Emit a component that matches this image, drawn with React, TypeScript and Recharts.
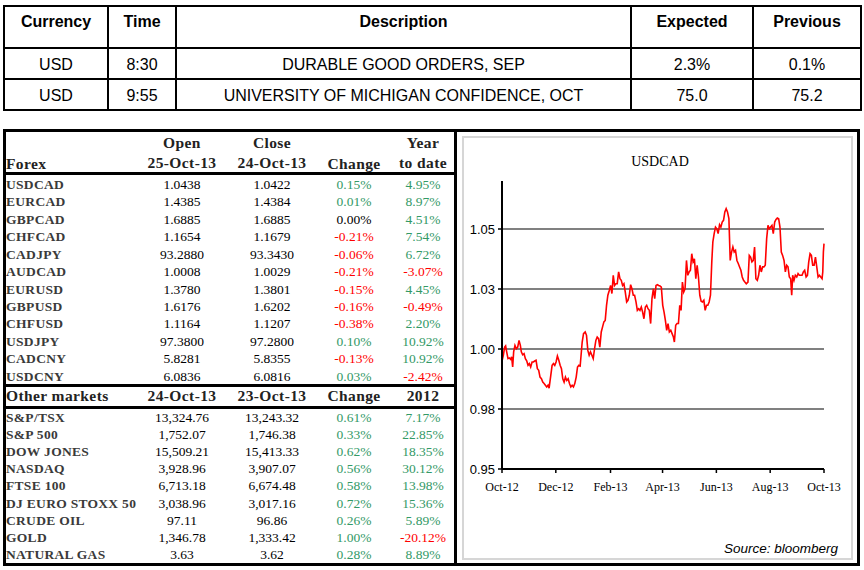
import React from 'react';
import { LineChart, Line, XAxis, YAxis, ReferenceLine } from 'recharts';

// ---------- Economic calendar ----------
const calHeaders = ['Currency', 'Time', 'Description', 'Expected', 'Previous'];
const calCurrency = ['USD', 'USD'];
const calTime = ['8:30', '9:55'];
const calDesc = ['DURABLE GOOD ORDERS, SEP', 'UNIVERSITY OF MICHIGAN CONFIDENCE, OCT'];
const calExpected = ['2.3%', '75.0'];
const calPrevious = ['0.1%', '75.2'];

// ---------- Forex ----------
const forexNames = ['USDCAD', 'EURCAD', 'GBPCAD', 'CHFCAD', 'CADJPY', 'AUDCAD', 'EURUSD', 'GBPUSD', 'CHFUSD', 'USDJPY', 'CADCNY', 'USDCNY'];
const forexOpen = ['1.0438', '1.4385', '1.6885', '1.1654', '93.2880', '1.0008', '1.3780', '1.6176', '1.1164', '97.3800', '5.8281', '6.0836'];
const forexClose = ['1.0422', '1.4384', '1.6885', '1.1679', '93.3430', '1.0029', '1.3801', '1.6202', '1.1207', '97.2800', '5.8355', '6.0816'];
const forexChange = ['0.15%', '0.01%', '0.00%', '-0.21%', '-0.06%', '-0.21%', '-0.15%', '-0.16%', '-0.38%', '0.10%', '-0.13%', '0.03%'];
const forexYtd = ['4.95%', '8.97%', '4.51%', '7.54%', '6.72%', '-3.07%', '4.45%', '-0.49%', '2.20%', '10.92%', '10.92%', '-2.42%'];

// ---------- Other markets ----------
const marketNames = ['S&P/TSX', 'S&P 500', 'DOW JONES', 'NASDAQ', 'FTSE 100', 'DJ EURO STOXX 50', 'CRUDE OIL', 'GOLD', 'NATURAL GAS'];
const marketOpen = ['13,324.76', '1,752.07', '15,509.21', '3,928.96', '6,713.18', '3,038.96', '97.11', '1,346.78', '3.63'];
const marketClose = ['13,243.32', '1,746.38', '15,413.33', '3,907.07', '6,674.48', '3,017.16', '96.86', '1,333.42', '3.62'];
const marketChange = ['0.61%', '0.33%', '0.62%', '0.56%', '0.58%', '0.72%', '0.26%', '1.00%', '0.28%'];
const marketYtd = ['7.17%', '22.85%', '18.35%', '30.12%', '13.98%', '15.36%', '5.89%', '-20.12%', '8.89%'];

// ---------- USDCAD chart (days since 25-Oct-12) ----------
const usdcadDays = [
  0, 1.5, 3.0, 4.1, 5.3, 6.8, 8.3, 9.8, 10.9, 12.1, 13.2, 14.7, 16.3, 17.8, 19.3, 20.8, 21.9, 23.4, 25.0, 26.5,
  28.0, 29.5, 31.0, 32.5, 34.1, 35.6, 37.1, 38.6, 40.1, 41.6, 43.1, 44.7, 46.2, 47.7, 49.2, 50.7, 52.2, 53.4, 55.3, 56.8,
  58.3, 59.8, 61.3, 62.8, 64.4, 65.9, 67.4, 68.9, 70.4, 71.9, 73.4, 75.0, 76.5, 78.0, 79.5, 81.0, 82.5, 84.1, 85.6, 87.1,
  88.6, 90.9, 92.4, 94.3, 95.8, 97.3, 98.8, 100.3, 101.9, 103.4, 104.9, 106.4, 107.9, 109.4, 110.9, 112.5, 114.0, 115.5, 117.0, 118.5,
  120.0, 121.6, 123.1, 124.6, 126.1, 127.6, 129.1, 130.6, 132.2, 133.7, 135.2, 136.7, 138.2, 139.7, 141.3, 142.8, 144.3, 145.8, 147.3, 148.8,
  150.3, 151.9, 153.4, 154.9, 156.4, 157.9, 159.4, 160.9, 162.5, 164.0, 165.5, 167.0, 168.5, 170.0, 171.6, 173.1, 174.6, 176.1, 177.6, 179.1,
  180.6, 182.2, 183.7, 185.2, 186.7, 188.2, 189.7, 191.3, 192.8, 194.3, 195.4, 196.9, 198.4, 200.0, 201.5, 203.0, 204.5, 206.0, 207.5, 209.1,
  210.6, 212.1, 213.6, 215.1, 216.6, 218.1, 219.7, 221.2, 222.7, 224.2, 225.7, 227.2, 228.8, 230.3, 231.8, 233.3, 234.8, 236.3, 237.8, 239.0,
  240.5, 242.0, 243.5, 245.0, 246.6, 248.1, 249.6, 251.1, 252.6, 254.1, 255.6, 257.2, 258.7, 260.2, 261.7, 263.2, 264.7, 266.3, 267.8, 269.3,
  270.8, 272.3, 273.8, 275.3, 276.9, 278.8, 280.3, 281.8, 283.3, 284.8, 286.3, 287.8, 289.4, 290.9, 292.4, 293.9, 295.4, 296.9, 298.4, 300.0,
  301.5, 303.0, 304.5, 306.0, 307.5, 309.1, 310.6, 312.1, 313.6, 315.1, 316.6, 318.1, 319.7, 321.2, 322.7, 324.2, 325.7, 327.2, 328.4, 329.5,
  331.0, 332.5, 334.1, 335.6, 337.1, 338.6, 340.1, 341.6, 343.1, 344.7, 346.2, 347.7, 349.2, 350.7, 352.2, 353.8, 355.3, 356.8, 358.3, 359.8,
  361.3, 362.8, 363.6, 364.3, 365.0,
];
const usdcadValues = [
  0.9950, 0.9974, 1.0008, 1.0013, 0.9988, 0.9960, 0.9963, 0.9957, 0.9967, 0.9925, 0.9988, 1.0015, 1.0001, 1.0008, 1.0036, 1.0015, 0.9988, 0.9976, 0.9981, 0.9960,
  0.9951, 0.9932, 0.9939, 0.9925, 0.9946, 0.9946, 0.9950, 0.9953, 0.9918, 0.9911, 0.9883, 0.9876, 0.9862, 0.9856, 0.9849, 0.9842, 0.9849, 0.9837, 0.9890, 0.9932,
  0.9939, 0.9932, 0.9946, 0.9971, 0.9953, 0.9932, 0.9918, 0.9876, 0.9862, 0.9883, 0.9869, 0.9876, 0.9856, 0.9842, 0.9849, 0.9842, 0.9856, 0.9883, 0.9925, 0.9932,
  0.9929, 1.0029, 1.0064, 1.0071, 1.0057, 0.9994, 0.9974, 0.9988, 0.9974, 0.9960, 1.0001, 1.0036, 1.0050, 1.0043, 1.0008, 1.0071, 1.0092, 1.0113, 1.0119, 1.0182,
  1.0224, 1.0244, 1.0265, 1.0231, 1.0307, 1.0265, 1.0272, 1.0272, 1.0321, 1.0293, 1.0286, 1.0265, 1.0272, 1.0238, 1.0196, 1.0203, 1.0224, 1.0268, 1.0251, 1.0224,
  1.0224, 1.0196, 1.0161, 1.0168, 1.0161, 1.0175, 1.0154, 1.0126, 1.0175, 1.0182, 1.0168, 1.0161, 1.0106, 1.0210, 1.0251, 1.0210, 1.0265, 1.0268, 1.0265, 1.0263,
  1.0258, 1.0182, 1.0154, 1.0119, 1.0078, 1.0106, 1.0071, 1.0078, 1.0064, 1.0050, 1.0029, 1.0099, 1.0106, 1.0106, 1.0182, 1.0161, 1.0279, 1.0238, 1.0251, 1.0369,
  1.0307, 1.0321, 1.0328, 1.0397, 1.0363, 1.0376, 1.0293, 1.0349, 1.0300, 1.0224, 1.0199, 1.0196, 1.0203, 1.0161, 1.0182, 1.0182, 1.0196, 1.0224, 1.0363, 1.0446,
  1.0481, 1.0508, 1.0501, 1.0481, 1.0518, 1.0508, 1.0529, 1.0536, 1.0571, 1.0585, 1.0571, 1.0543, 1.0369, 1.0404, 1.0425, 1.0404, 1.0411, 1.0369, 1.0356, 1.0342,
  1.0328, 1.0300, 1.0286, 1.0279, 1.0272, 1.0279, 1.0390, 1.0383, 1.0363, 1.0369, 1.0425, 1.0293, 1.0286, 1.0307, 1.0349, 1.0321, 1.0342, 1.0342, 1.0349, 1.0460,
  1.0515, 1.0501, 1.0508, 1.0515, 1.0481, 1.0529, 1.0540, 1.0546, 1.0543, 1.0508, 1.0404, 1.0390, 1.0369, 1.0321, 1.0349, 1.0342, 1.0300, 1.0293, 1.0224, 1.0307,
  1.0286, 1.0307, 1.0300, 1.0314, 1.0307, 1.0307, 1.0307, 1.0321, 1.0328, 1.0300, 1.0307, 1.0363, 1.0397, 1.0390, 1.0349, 1.0349, 1.0383, 1.0342, 1.0300, 1.0307,
  1.0300, 1.0293, 1.0321, 1.0404, 1.0439,
];
const xTickDays = [0, 61, 123, 182, 243, 304, 365];
const xTickLabels = ['Oct-12', 'Dec-12', 'Feb-13', 'Apr-13', 'Jun-13', 'Aug-13', 'Oct-13'];
const yTickValues = [0.95, 0.975, 1.0, 1.025, 1.05];
const yTickLabels = ['0.95', '0.98', '1.00', '1.03', '1.05'];

const chartData = usdcadDays.map((d, i) => ({ day: d, value: usdcadValues[i] }));

const NARROW = "'Liberation Sans Narrow', 'Arial Narrow', 'Liberation Sans', Arial, sans-serif";
const SERIF = "'Liberation Serif', 'Times New Roman', serif";
const GREEN = '#339966';
const RED = '#ff0000';

const pctColor = (s: string) => (s.startsWith('-') ? RED : s === '0.00%' ? '#000' : GREEN);

type TProps = { x: number; y: number; align?: 'left' | 'center'; style?: React.CSSProperties; children: React.ReactNode };
const T = ({ x, y, align = 'center', style, children }: TProps) => {
  const base: React.CSSProperties = {
    position: 'absolute',
    top: y - 10,
    height: 20,
    lineHeight: '20px',
    whiteSpace: 'nowrap',
    fontFamily: SERIF,
    fontSize: 13,
    color: '#000',
  };
  if (align === 'left') return <div style={{ ...base, left: x, ...style }}>{children}</div>;
  return <div style={{ ...base, left: x - 70, width: 140, textAlign: 'center', ...style }}>{children}</div>;
};

const Bar = ({ l, t, w, h, c = '#000' }: { l: number; t: number; w: number; h: number; c?: string }) => (
  <div style={{ position: 'absolute', left: l, top: t, width: w, height: h, background: c }} />
);

const colX = { open: 182, close: 272, change: 354, ytd: 423 };
const nameStyle: React.CSSProperties = { fontWeight: 'bold', color: '#3a3a3a', fontSize: 13.5, letterSpacing: 0.3 };
const numStyle: React.CSSProperties = { fontSize: 13.5 };
const headStyle: React.CSSProperties = { fontWeight: 'bold', fontSize: 15.5, color: '#222', letterSpacing: 0.4 };

export default function App() {
  const calColWidths = [104, 68, 455, 122, 108];
  const cellBorder = '2px solid #000';
  return (
    <div style={{ position: 'absolute', left: 0, top: 0, width: 864, height: 570, background: '#fff', overflow: 'hidden' }}>
      {/* Calendar table */}
      <table
        style={{
          position: 'absolute',
          left: 3,
          top: 5,
          width: 857,
          borderCollapse: 'collapse',
          tableLayout: 'fixed',
          fontFamily: NARROW,
          fontSize: 16,
        }}
      >
        <colgroup>
          {calColWidths.map((w, i) => (
            <col key={i} style={{ width: w }} />
          ))}
        </colgroup>
        <tbody>
          <tr style={{ height: 42 }}>
            {calHeaders.map((h) => (
              <td key={h} style={{ border: cellBorder, textAlign: 'center', fontWeight: 'bold', fontSize: 16, padding: '0 0 10px 0' }}>
                {h}
              </td>
            ))}
          </tr>
          {calCurrency.map((c, i) => (
            <tr key={i} style={{ height: 31 }}>
              {[c, calTime[i], calDesc[i], calExpected[i], calPrevious[i]].map((v, j) => (
                <td key={j} style={{ border: cellBorder, textAlign: 'center', padding: '2px 0 0 0', transform: 'none' }}>
                  {v}
                </td>
              ))}
            </tr>
          ))}
        </tbody>
      </table>

      {/* Lower frame */}
      <div style={{ position: 'absolute', left: 3, top: 129, width: 857, height: 437, border: '3px solid #000', boxSizing: 'border-box' }} />
      <Bar l={454} t={129} w={3} h={437} />
      <Bar l={3} t={172} w={452} h={3} />
      <Bar l={3} t={384} w={452} h={3} />
      <Bar l={3} t={406} w={452} h={3} />

      {/* Forex header */}
      <T x={6} y={164} align="left" style={headStyle}>Forex</T>
      <T x={colX.open} y={143} style={headStyle}>Open</T>
      <T x={colX.open} y={163} style={headStyle}>25-Oct-13</T>
      <T x={colX.close} y={143} style={headStyle}>Close</T>
      <T x={colX.close} y={163} style={headStyle}>24-Oct-13</T>
      <T x={colX.change} y={164} style={headStyle}>Change</T>
      <T x={colX.ytd} y={143} style={headStyle}>Year</T>
      <T x={colX.ytd} y={163} style={headStyle}>to date</T>

      {forexNames.map((n, i) => {
        const y = 185 + i * 17.43;
        return (
          <React.Fragment key={n}>
            <T x={6} y={y} align="left" style={nameStyle}>{n}</T>
            <T x={colX.open} y={y} style={numStyle}>{forexOpen[i]}</T>
            <T x={colX.close} y={y} style={numStyle}>{forexClose[i]}</T>
            <T x={colX.change} y={y} style={{ ...numStyle, color: pctColor(forexChange[i]) }}>{forexChange[i]}</T>
            <T x={colX.ytd} y={y} style={{ ...numStyle, color: pctColor(forexYtd[i]) }}>{forexYtd[i]}</T>
          </React.Fragment>
        );
      })}

      {/* Other markets header */}
      <T x={6} y={396} align="left" style={headStyle}>Other markets</T>
      <T x={colX.open} y={396} style={headStyle}>24-Oct-13</T>
      <T x={colX.close} y={396} style={headStyle}>23-Oct-13</T>
      <T x={colX.change} y={396} style={headStyle}>Change</T>
      <T x={colX.ytd} y={396} style={headStyle}>2012</T>

      {marketNames.map((n, i) => {
        const y = 418 + i * 17.1;
        return (
          <React.Fragment key={n}>
            <T x={6} y={y} align="left" style={nameStyle}>{n}</T>
            <T x={colX.open} y={y} style={numStyle}>{marketOpen[i]}</T>
            <T x={colX.close} y={y} style={numStyle}>{marketClose[i]}</T>
            <T x={colX.change} y={y} style={{ ...numStyle, color: pctColor(marketChange[i]) }}>{marketChange[i]}</T>
            <T x={colX.ytd} y={y} style={{ ...numStyle, color: pctColor(marketYtd[i]) }}>{marketYtd[i]}</T>
          </React.Fragment>
        );
      })}

      {/* Chart panel */}
      <div style={{ position: 'absolute', left: 462, top: 136, width: 391, height: 424, border: '2px solid #d6d6d6', boxSizing: 'border-box' }} />
      <div
        style={{
          position: 'absolute',
          left: 560,
          top: 152,
          width: 200,
          textAlign: 'center',
          fontFamily: SERIF,
          fontSize: 14,
          lineHeight: '20px',
        }}
      >
        USDCAD
      </div>
      <div style={{ position: 'absolute', left: 464, top: 137 }}>
        <LineChart width={388} height={422} data={chartData} margin={{ top: 44, right: 28, left: 0, bottom: 0 }}>
          <XAxis
            dataKey="day"
            type="number"
            domain={[0, 365]}
            ticks={xTickDays}
            tickFormatter={(v: number) => xTickLabels[xTickDays.indexOf(v)] ?? ''}
            interval={0}
            height={90}
            axisLine={{ stroke: '#000', strokeWidth: 2 }}
            tickLine={{ stroke: '#000', strokeWidth: 1.5 }}
            tickSize={4}
            tickMargin={9}
            tick={{ fontFamily: SERIF, fontSize: 12, fill: '#000' }}
          />
          <YAxis
            type="number"
            domain={[0.95, 1.07]}
            ticks={yTickValues}
            tickFormatter={(v: number) => yTickLabels[yTickValues.indexOf(v)] ?? ''}
            interval={0}
            width={38}
            axisLine={{ stroke: '#000', strokeWidth: 2 }}
            tickLine={{ stroke: '#000', strokeWidth: 1.5 }}
            tickSize={4}
            tickMargin={3}
            tick={{ fontFamily: NARROW, fontSize: 13, fill: '#000' }}
          />
          {yTickValues.slice(1).map((v) => (
            <ReferenceLine key={v} y={v} stroke="#808080" strokeWidth={2} />
          ))}
          <Line type="linear" dataKey="value" stroke="#ff0000" strokeWidth={1.6} dot={false} isAnimationActive={false} />
        </LineChart>
      </div>
      <div
        style={{
          position: 'absolute',
          left: 640,
          width: 198,
          top: 539,
          textAlign: 'right',
          fontFamily: "'Liberation Sans', Arial, sans-serif",
          fontStyle: 'italic',
          fontSize: 13.5,
          lineHeight: '20px',
        }}
      >
        Source: bloomberg
      </div>
    </div>
  );
}
